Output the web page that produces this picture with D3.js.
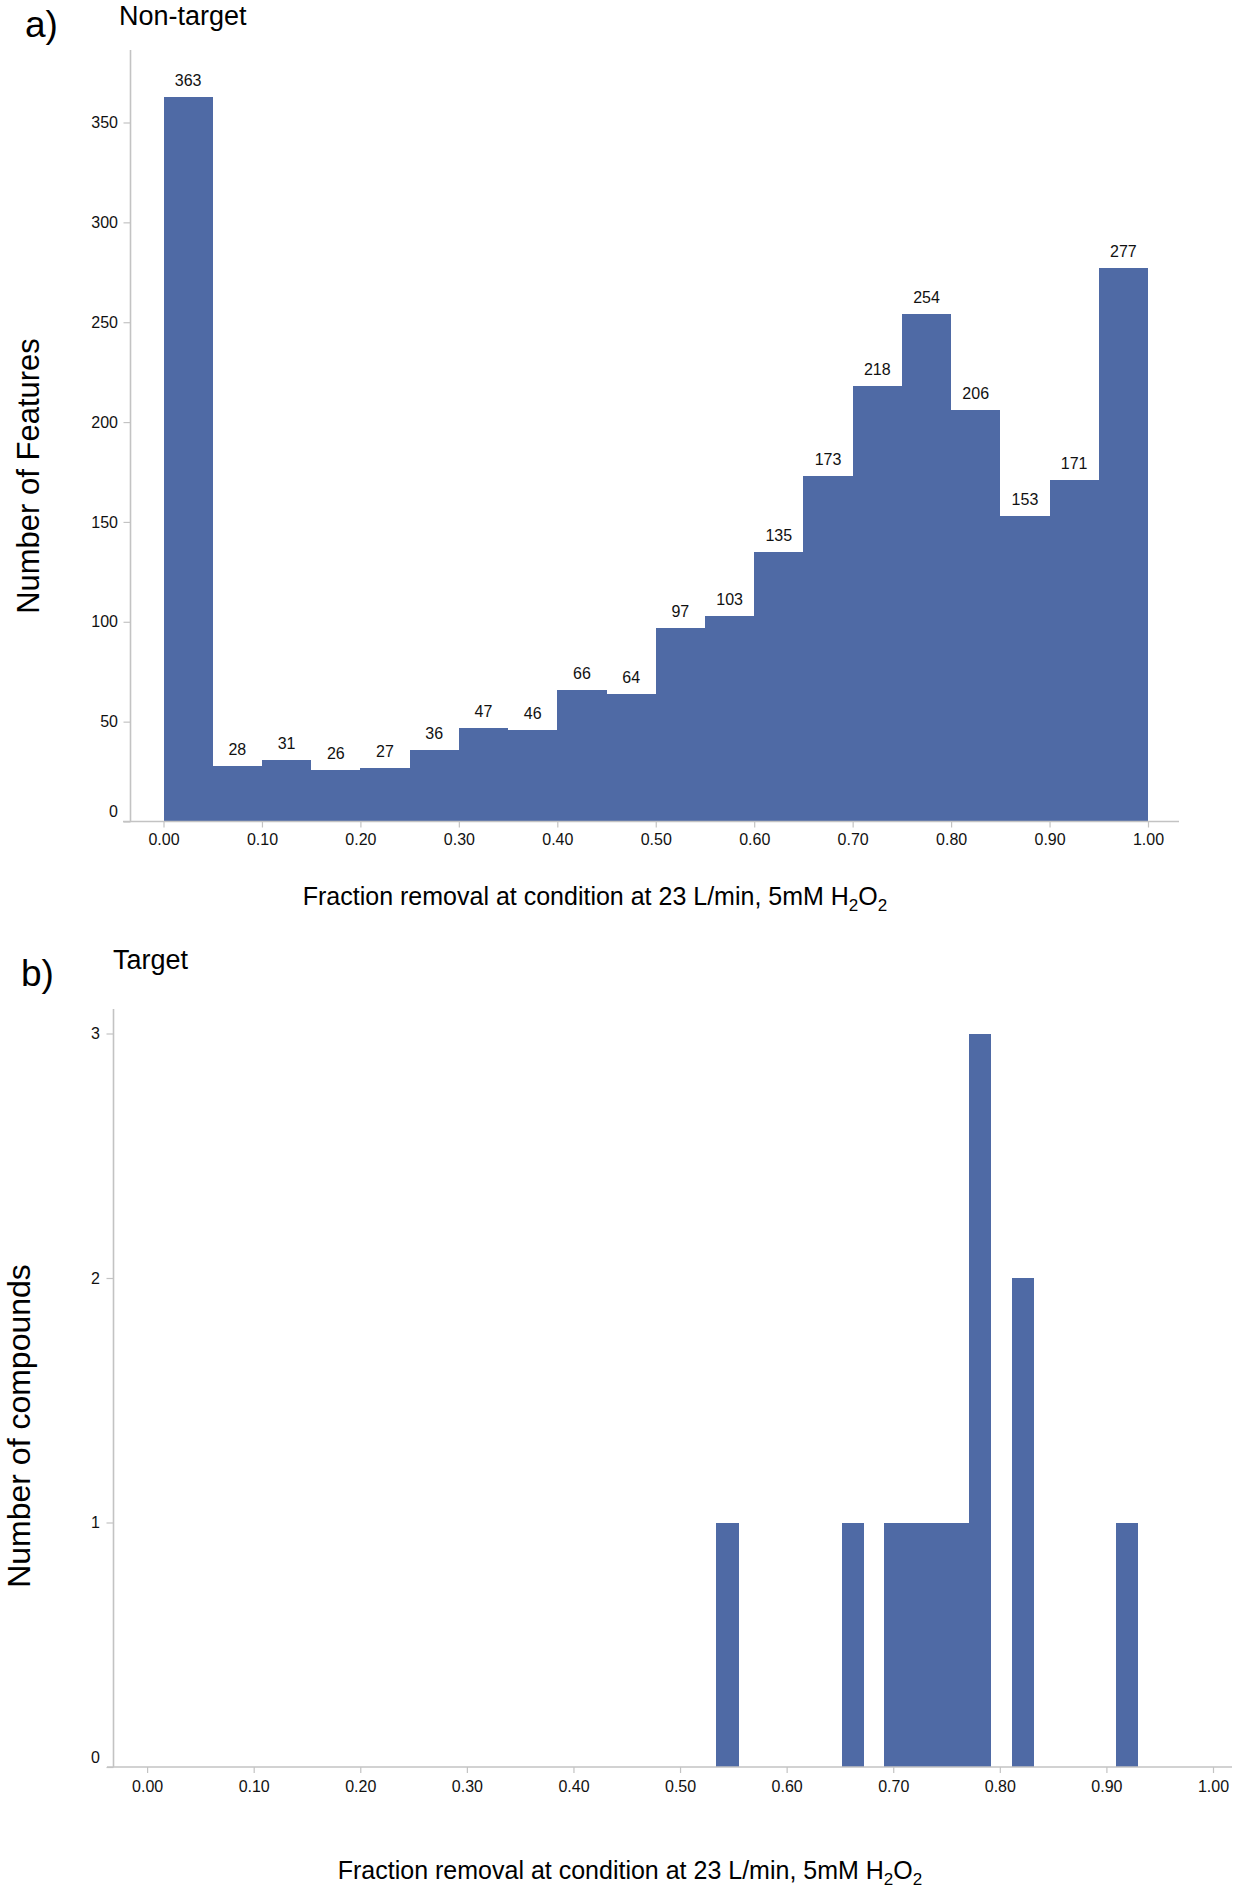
<!DOCTYPE html>
<html><head><meta charset="utf-8">
<script src="https://cdn.jsdelivr.net/npm/d3@7"></script>
<style>
body{margin:0;background:#fff}
svg{display:block}
text{font-family:"Liberation Sans",Arial,sans-serif}
</style>
</head><body>
<svg id="c" width="1253" height="1891"></svg>
<script>
// ---------- data ----------
const nonTargetBinStart = [0.00,0.05,0.10,0.15,0.20,0.25,0.30,0.35,0.40,0.45,0.50,0.55,0.60,0.65,0.70,0.75,0.80,0.85,0.90,0.95];
const nonTargetBinEnd   = [0.05,0.10,0.15,0.20,0.25,0.30,0.35,0.40,0.45,0.50,0.55,0.60,0.65,0.70,0.75,0.80,0.85,0.90,0.95,1.00];
const nonTargetCounts   = [363,28,31,26,27,36,47,46,66,64,97,103,135,173,218,254,206,153,171,277];
const nonTargetYTicks   = [0,50,100,150,200,250,300,350];

const targetBinStart = [0.534,0.652,0.691,0.711,0.731,0.751,0.771,0.811,0.909];
const targetBinEnd   = [0.555,0.673,0.711,0.731,0.751,0.771,0.792,0.832,0.930];
const targetCounts   = [1,1,1,1,1,1,3,2,1];
const targetYTicks   = [0,1,2,3];

const xTickValues = [0.0,0.1,0.2,0.3,0.4,0.5,0.6,0.7,0.8,0.9,1.0];

const panelLetters = ["a)","b)"];
const panelTitles  = ["Non-target","Target"];
const yTitles      = ["Number of Features","Number of compounds"];
const xTitleMain   = "Fraction removal at condition at 23 L/min, 5mM H";

// ---------- drawing ----------
const svg = d3.select("#c");
const BAR = "#4f6aa5";
const AXIS = "#c3c3c3";

function panel(cfg){
  const g = svg.append("g");
  const x = d3.scaleLinear().domain([0,1]).range([cfg.x0, cfg.x1]);
  const y = d3.scaleLinear().domain([0,cfg.yMax]).range([cfg.yBase, cfg.yTopTick]);

  // bars
  const bins = cfg.counts.map((c,i)=>({s:cfg.starts[i], e:cfg.ends[i], c}));
  g.append("g").selectAll("rect").data(bins).join("rect")
    .attr("x", d=>x(d.s))
    .attr("width", d=>x(d.e)-x(d.s))
    .attr("y", d=>y(d.c))
    .attr("height", d=>y(0)-y(d.c))
    .attr("fill", BAR)
    .attr("shape-rendering","crispEdges");

  if(cfg.labels){
    g.append("g").selectAll("text").data(bins).join("text")
      .attr("x", d=>(x(d.s)+x(d.e))/2)
      .attr("y", d=>y(d.c)-11)
      .attr("text-anchor","middle")
      .attr("font-size",16)
      .attr("fill","#111")
      .text(d=>d.c);
  }

  // y axis
  const ya = g.append("g").attr("transform",`translate(${cfg.axisX},0)`)
    .call(d3.axisLeft(y).tickValues(cfg.yTicks).tickSize(7).tickPadding(cfg.yPad).tickFormat(d3.format("d")));
  ya.select(".domain").remove();
  ya.selectAll(".tick line").attr("stroke",AXIS).attr("stroke-width",1.2);
  ya.selectAll(".tick text").attr("font-size",16).attr("fill","#111")
    .attr("font-family","Liberation Sans, Arial, sans-serif")
    .attr("y", d=> d===0 ? -10 : 0);
  g.append("line").attr("x1",cfg.axisX).attr("x2",cfg.axisX)
    .attr("y1",cfg.axisTop).attr("y2",cfg.yBase)
    .attr("stroke",AXIS).attr("stroke-width",1.6);

  // x axis
  const xa = g.append("g").attr("transform",`translate(0,${cfg.yBase})`)
    .call(d3.axisBottom(x).tickValues(xTickValues).tickSize(6).tickPadding(cfg.xPad).tickFormat(d3.format(".2f")));
  xa.select(".domain").remove();
  xa.selectAll(".tick line").attr("stroke",AXIS).attr("stroke-width",1.2);
  xa.selectAll(".tick text").attr("font-size",16).attr("fill","#111")
    .attr("font-family","Liberation Sans, Arial, sans-serif");
  g.append("line").attr("x1",cfg.xAxisL).attr("x2",cfg.xAxisR)
    .attr("y1",cfg.yBase).attr("y2",cfg.yBase)
    .attr("stroke",AXIS).attr("stroke-width",1.6);

  // letter
  g.append("text").attr("x",cfg.letterX).attr("y",cfg.letterY)
    .attr("font-family","Liberation Serif, 'Times New Roman', serif")
    .attr("font-size",37).attr("fill","#000").text(cfg.letter);
  // title
  g.append("text").attr("x",cfg.titleX).attr("y",cfg.titleY)
    .attr("font-size",27).attr("fill","#000").text(cfg.title);
  // y title
  g.append("text").attr("transform",`translate(${cfg.yTitleX},${cfg.yTitleY}) rotate(-90)`)
    .attr("text-anchor","middle").attr("font-size",cfg.yTitleSize).attr("fill","#000").text(cfg.yTitle);
  // x title
  const xt = g.append("text").attr("x",cfg.xTitleX).attr("y",cfg.xTitleY)
    .attr("text-anchor","middle").attr("font-size",25).attr("fill","#000");
  xt.append("tspan").text(xTitleMain);
  xt.append("tspan").attr("font-size",17).attr("dy",6).text("2");
  xt.append("tspan").attr("dy",-6).text("O");
  xt.append("tspan").attr("font-size",17).attr("dy",6).text("2");
}

panel({
  starts:nonTargetBinStart, ends:nonTargetBinEnd, counts:nonTargetCounts, labels:true,
  yMax:350, yTicks:nonTargetYTicks,
  x0:163.5, x1:1148, yBase:821.5, yTopTick:122.5,
  axisX:130.5, axisTop:50, yPad:5.5, xPad:6,
  xAxisL:123, xAxisR:1179,
  letter:panelLetters[0], letterX:25, letterY:37,
  title:panelTitles[0], titleX:119, titleY:25,
  yTitle:yTitles[0], yTitleX:39, yTitleY:476, yTitleSize:31,
  xTitleX:595, xTitleY:905
});

panel({
  starts:targetBinStart, ends:targetBinEnd, counts:targetCounts, labels:false,
  yMax:3, yTicks:targetYTicks,
  x0:147.1, x1:1213, yBase:1767, yTopTick:1033.5,
  axisX:113.5, axisTop:1009, yPad:6.5, xPad:7.5,
  xAxisL:107, xAxisR:1232,
  letter:panelLetters[1], letterX:21, letterY:986,
  title:panelTitles[1], titleX:113, titleY:969,
  yTitle:yTitles[1], yTitleX:30, yTitleY:1426, yTitleSize:32,
  xTitleX:630, xTitleY:1879
});
</script>
</body></html>
